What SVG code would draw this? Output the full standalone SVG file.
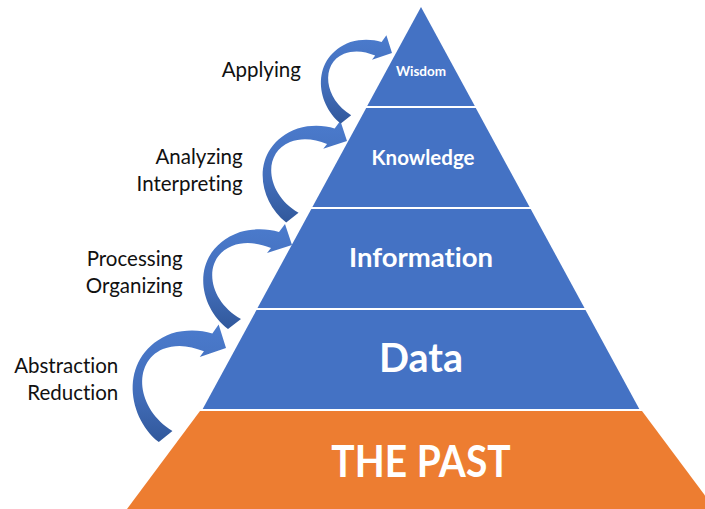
<svg xmlns="http://www.w3.org/2000/svg" width="705" height="509" viewBox="0 0 705 509">
  <style>
    text { font-variant-ligatures: none; font-feature-settings: "liga" 0, "dlig" 0; }
    .blue { fill: #4472C4; }
    .orange { fill: #ED7D31; }
    .lbl { font-family: Lato, "Liberation Sans", sans-serif; font-size: 20.5px; fill: #111111; }
    .lvl { font-family: Lato, "Liberation Sans", sans-serif; font-weight: bold; fill: #ffffff; text-anchor: middle; }
    .arrow { fill: url(#arrowGrad); }
  </style>
  <defs>
    <linearGradient id="arrowGrad" x1="0" y1="0" x2="0" y2="1">
      <stop offset="0" stop-color="#4b7bcd"/>
      <stop offset="0.6" stop-color="#426db9"/>
      <stop offset="1" stop-color="#31589b"/>
    </linearGradient>
    <path id="curvedArrow" d="M -64,84 C -96,60 -102,5 -52,-13 C -37,-17 -24,-16 -13,-13 L -7,-21 L 0,0 L -25,8 L -21,3 C -34,-2 -47,-4 -60,1 C -90,13 -85,55 -51,74 Z"/>
  </defs>
  <rect width="705" height="509" fill="#ffffff"/>

  <g id="past">
    <polygon class="orange" points="200,411 642,411 715,509 127,509"/>
    <text class="lvl" transform="translate(421,477) scale(1,1.12)" x="0" y="0" font-size="39">THE PAST</text>
  </g>
  <g id="data">
    <polygon class="blue" points="256.5,310 585.5,310 639.3,409 202.7,409"/>
    <text class="lvl" x="421" y="371.5" font-size="39.5">Data</text>
  </g>
  <g id="information">
    <polygon class="blue" points="311.3,209 530.7,209 584.5,308 257.5,308"/>
    <text class="lvl" x="421" y="266.5" font-size="27.5">Information</text>
  </g>
  <g id="knowledge">
    <polygon class="blue" points="366.2,108 475.8,108 529.6,207 312.4,207"/>
    <text class="lvl" x="423" y="165" font-size="20.5">Knowledge</text>
  </g>
  <g id="wisdom">
    <polygon class="blue" points="421,7 474.8,106 367.2,106"/>
    <text class="lvl" x="421" y="76" font-size="13.5">Wisdom</text>
  </g>

  <g id="connectors">
    <use href="#curvedArrow" class="arrow" transform="translate(226,348) scale(1.05,1.12)"/>
    <use href="#curvedArrow" class="arrow" transform="translate(292,245)"/>
    <use href="#curvedArrow" class="arrow" transform="translate(347,141) scale(0.95,0.97)"/>
    <use href="#curvedArrow" class="arrow" transform="translate(392,53) scale(0.8,0.84)"/>
  </g>

  <g id="labels">
    <text class="lbl" x="221.7" y="77.3">Applying</text>
    <text class="lbl" x="242.7" y="164" text-anchor="end">Analyzing</text>
    <text class="lbl" x="242.7" y="190.7" text-anchor="end">Interpreting</text>
    <text class="lbl" x="182.7" y="265.7" text-anchor="end">Processing</text>
    <text class="lbl" x="182.7" y="292.7" text-anchor="end">Organizing</text>
    <text class="lbl" x="118.3" y="373.3" text-anchor="end">Abstraction</text>
    <text class="lbl" x="118.3" y="400" text-anchor="end">Reduction</text>
  </g>
</svg>
